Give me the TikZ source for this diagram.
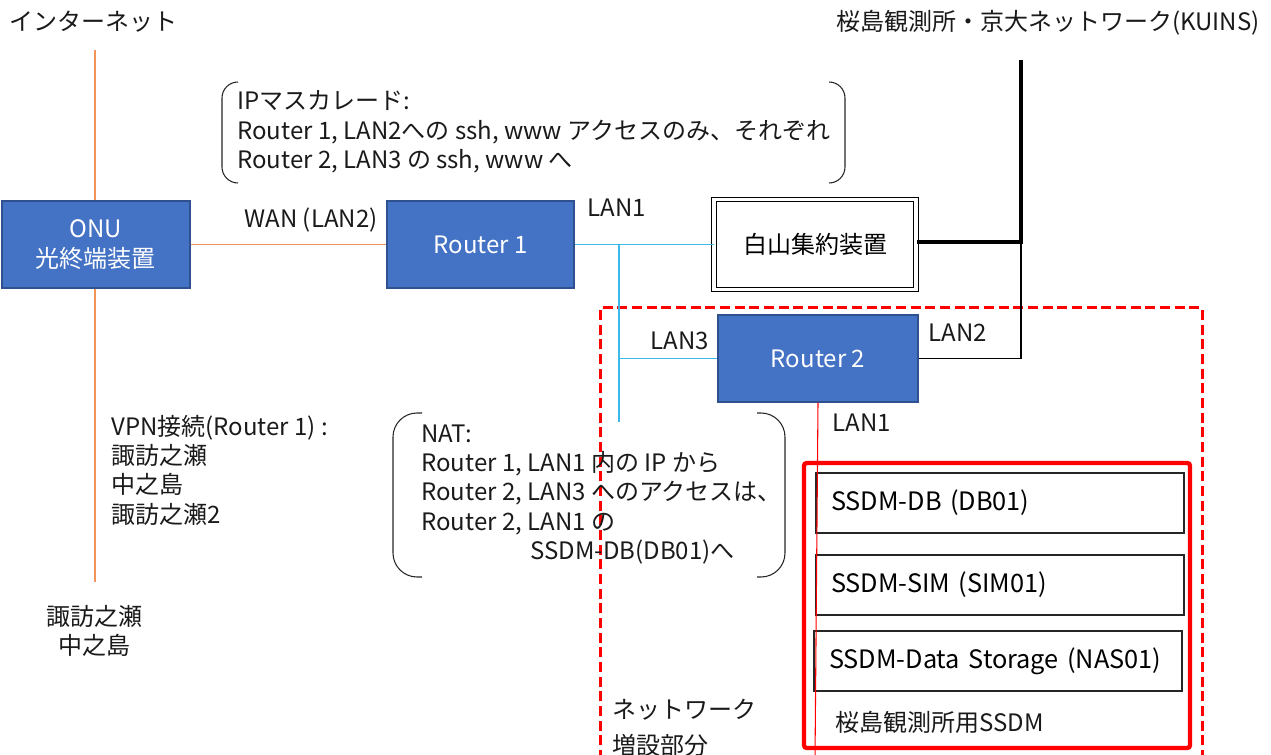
\documentclass[tikz,border=0pt]{standalone}
\usepackage{fontspec}
\setmainfont{Noto Sans CJK JP}
\definecolor{boxblue}{HTML}{4472C4}
\definecolor{boxedge}{HTML}{2F528F}
\definecolor{lineorange}{HTML}{F0945A}
\definecolor{lancyan}{HTML}{3DB8EA}
\definecolor{txt}{HTML}{1A1A1A}
\tikzset{
  bluebox/.style={draw=boxedge, fill=boxblue, line width=1.1pt, text=white, align=center, inner sep=0pt},
  hsbox/.style={draw=black, double=white, double distance=2.6pt, line width=0.9pt, fill=white, inner sep=0pt},
  srvbox/.style={draw=black!85, line width=1.1pt, fill=white, align=left, inner xsep=11.25pt, inner ysep=0pt, minimum height=45pt, text width=253.5pt, font=\fontsize{19pt}{22pt}\selectfont},
  lbl/.style={inner sep=0pt, text=txt},
  multi/.style={inner sep=0pt, text=txt, align=left},
  inetline/.style={draw=lineorange, line width=0.9pt},
  lanline/.style={draw=lancyan, line width=0.9pt},
  paren/.style={draw=black!85, line width=0.8pt},
}
\begin{document}
\begin{tikzpicture}[x=0.75pt, y=-0.75pt, font=\fontsize{18pt}{22pt}\selectfont]
\useasboundingbox (0,0) rectangle (1271,755);

% coordinates
\coordinate (inet) at (95,50);
\coordinate (vpnend) at (95,582);
\coordinate (j1) at (619,244.5);
\coordinate (lanend) at (619,422);
\coordinate (kuins) at (1021,60);
\coordinate (k) at (1021,242);
\coordinate (r2foot) at (815,760);

% dashed expansion area
\draw[red, line width=2.25pt, dash pattern=on 7.5pt off 3.5pt] (600,760) -- (600,308) -- (1202,308) -- (1202,760);

% SSDM frame
\draw[red, line width=3.2pt, rounded corners=2pt] (804,463) rectangle (1190,748);

% main nodes
\node[bluebox, minimum width=141pt, minimum height=65.25pt] (onu) at (96,244.5) {ONU\\光終端装置};
\node[bluebox, minimum width=140.25pt, minimum height=65.25pt] (r1) at (480.5,244.5) {Router 1};
\node[hsbox, minimum width=151.5pt, minimum height=67.5pt] (hs) at (815.2,244.5) {白山集約装置\hspace{22pt}};
\node[bluebox, minimum width=150pt, minimum height=65.25pt] (r2) at (818,358.5) {Router 2};

\node[srvbox] (db) at (1000,503) {SSDM-DB (DB01)};
\node[srvbox] (sim) at (1000,585) {SSDM-SIM (SIM01)};
\node[srvbox] (nas) at (998,661) {SSDM-Data Storage (NAS01)};

% connectors
\draw[inetline] (inet) -- (inet |- onu.north);
\draw[inetline] (inet |- onu.south) -- (vpnend);
\draw[inetline] (onu) -- (r1);
\draw[lanline] (r1) -- (hs);
\draw[lanline] (j1) -- (lanend);
\draw[lanline] (r2.west -| j1) -- (r2.west);
\draw[black, line width=3pt] (hs.east |- k) -- (k) -- (kuins);
\draw[black, line width=0.9pt] (k) |- (r2.east);
\draw[red, line width=0.8pt] (r2.south) -- (r2foot);

% labels
\node[lbl] (inetlbl) at (93,22) {インターネット};
\node[lbl, anchor=east] (kuinslbl) at (1260,23) {桜島観測所・京大ネットワーク(KUINS)};
\node[lbl] (wan) at (311,220) {WAN (LAN2)};
\node[lbl] (lan1a) at (617,208) {LAN1};
\node[lbl] (lan3) at (680,341) {LAN3};
\node[lbl] (lan2) at (958,333) {LAN2};
\node[lbl] (lan1b) at (862,423) {LAN1};
\node[lbl, anchor=west] (ssdmlbl) at (835,722) {桜島観測所用SSDM};
\node[lbl, anchor=west] (net1) at (612,710) {ネットワーク};
\node[lbl, anchor=west] (net2) at (612,745) {増設部分};
\node[multi, align=center] (island) at (94,631) {諏訪之瀬\\中之島};

% VPN text
\node[multi, anchor=west] (vpn) at (111,470) {VPN接続(Router 1) :\\諏訪之瀬\\中之島\\諏訪之瀬2};

% IP masquerade bracket
\draw[paren, rounded corners=12pt] (238,82) -- (222,82) -- (222,183) -- (238,183);
\draw[paren, rounded corners=12pt] (829,82) -- (845,82) -- (845,183) -- (829,183);
\node[multi, anchor=west] (ipm) at (237,132) {IPマスカレード:\\Router 1, LAN2への ssh, www アクセスのみ、それぞれ\\Router 2, LAN3 の ssh, www へ};

% NAT bracket
\draw[paren, rounded corners=18pt] (422,413) -- (393,413) -- (393,577) -- (422,577);
\draw[paren, rounded corners=18pt] (757,413) -- (785,413) -- (785,577) -- (757,577);
\node[multi, anchor=west] (nat) at (421,494.5) {NAT:\\Router 1, LAN1 内の IP から\\Router 2, LAN3 へのアクセスは、\\Router 2, LAN1 の\\\hspace{82pt}SSDM-DB(DB01)へ};
\end{tikzpicture}
\end{document}
